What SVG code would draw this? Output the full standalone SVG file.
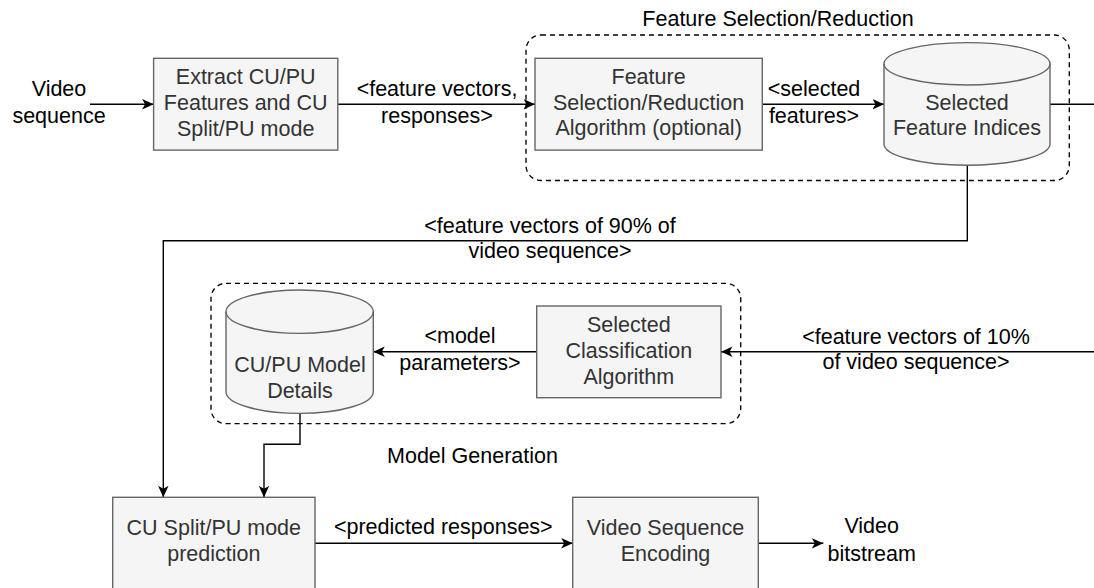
<svg xmlns="http://www.w3.org/2000/svg" width="1094" height="588" viewBox="0 0 1094 588">
  <style>
    text { font-family: "Liberation Sans", Arial, sans-serif; font-size: 21.5px; text-anchor: middle; }
    .node-text { fill: #333333; }
    .label { fill: #000000; }
    .box { fill: #f5f5f5; stroke: #666666; stroke-width: 1.4; }
    .group { fill: none; stroke: #000000; stroke-width: 1.35; stroke-dasharray: 5 4; }
    .edge { fill: none; stroke: #000000; stroke-width: 1.4; }
    .arrow { marker-end: url(#head); }
  </style>
  <defs>
    <marker id="head" markerUnits="userSpaceOnUse" markerWidth="12" markerHeight="11" refX="11.5" refY="5.25" orient="auto">
      <path d="M0,0 L11.5,5.25 L0,10.5 L3,5.25 Z" fill="#000000"/>
    </marker>
  </defs>
  <rect width="1094" height="588" fill="#ffffff"/>

  <!-- dashed containers -->
  <g id="feature-selection-group">
    <rect class="group" x="526" y="35" width="543.3" height="145.5" rx="15" ry="15"/>
    <text class="label" x="778" y="26">Feature Selection/Reduction</text>
  </g>
  <g id="model-generation-group">
    <rect class="group" x="211" y="283.3" width="529.7" height="140.4" rx="15" ry="15"/>
    <text class="label" x="472.5" y="462.7">Model Generation</text>
  </g>

  <!-- connectors -->
  <g id="connectors">
    <path class="edge arrow" d="M90,104.2 H153.6"/>
    <path class="edge arrow" d="M337.8,104.2 H535"/>
    <path class="edge arrow" d="M762.3,104.2 H884"/>
    <path class="edge" d="M1050,104.2 H1094"/>
    <path class="edge arrow" d="M967.3,165 V240.7 H163.3 V497.3"/>
    <path class="edge arrow" d="M1094,351.7 H721"/>
    <path class="edge arrow" d="M536.7,351.7 H373.3"/>
    <path class="edge arrow" d="M300,413.3 V444.3 H264 V497.3"/>
    <path class="edge arrow" d="M315,543.3 H572.7"/>
    <path class="edge arrow" d="M758.3,543.3 H823.3"/>

    <text class="label" x="437" y="96">&lt;feature vectors,</text>
    <text class="label" x="437" y="122.7">responses&gt;</text>
    <text class="label" x="814" y="96">&lt;selected</text>
    <text class="label" x="814" y="122.7">features&gt;</text>
    <text class="label" x="550" y="232.7">&lt;feature vectors of 90% of</text>
    <text class="label" x="550" y="258.4">video sequence&gt;</text>
    <text class="label" x="916" y="344.4">&lt;feature vectors of 10%</text>
    <text class="label" x="916" y="369.4">of video sequence&gt;</text>
    <text class="label" x="460" y="343.3">&lt;model</text>
    <text class="label" x="460" y="370">parameters&gt;</text>
    <text class="label" x="443.3" y="533.7">&lt;predicted responses&gt;</text>
  </g>

  <!-- input / output terminals -->
  <g id="video-input">
    <text class="label" x="59" y="96">Video</text>
    <text class="label" x="59" y="122.7">sequence</text>
  </g>
  <g id="video-output">
    <text class="label" x="871.7" y="533.4">Video</text>
    <text class="label" x="871.7" y="561">bitstream</text>
  </g>

  <!-- nodes -->
  <g id="extract-features">
    <rect class="box" x="153.6" y="58.3" width="184.2" height="91.8"/>
    <text class="node-text" x="245.7" y="83.7">Extract CU/PU</text>
    <text class="node-text" x="245.7" y="110">Features and CU</text>
    <text class="node-text" x="245.7" y="136">Split/PU mode</text>
  </g>
  <g id="feature-selection-algorithm">
    <rect class="box" x="535" y="58.3" width="227.3" height="91.8"/>
    <text class="node-text" x="648.6" y="83.7">Feature</text>
    <text class="node-text" x="648.6" y="109.7">Selection/Reduction</text>
    <text class="node-text" x="648.6" y="135.4">Algorithm (optional)</text>
  </g>
  <g id="selected-feature-indices">
    <path class="box" d="M884,63.8 A83,21.2 0 0 1 1050,63.8 V144 A83,21.2 0 0 1 884,144 Z"/>
    <path class="box" style="fill:none" d="M884,63.8 A83,21.2 0 0 0 1050,63.8"/>
    <text class="node-text" x="967" y="109.7">Selected</text>
    <text class="node-text" x="967" y="135.4">Feature Indices</text>
  </g>
  <g id="classification-algorithm">
    <rect class="box" x="536.7" y="306" width="184.3" height="91.7"/>
    <text class="node-text" x="628.8" y="331.7">Selected</text>
    <text class="node-text" x="628.8" y="357.7">Classification</text>
    <text class="node-text" x="628.8" y="383.7">Algorithm</text>
  </g>
  <g id="model-details">
    <path class="box" d="M226,311.7 A73.65,21.7 0 0 1 373.3,311.7 V391.7 A73.65,21.7 0 0 1 226,391.7 Z"/>
    <path class="box" style="fill:none" d="M226,311.7 A73.65,21.7 0 0 0 373.3,311.7"/>
    <text class="node-text" x="300" y="372">CU/PU Model</text>
    <text class="node-text" x="300" y="397.7">Details</text>
  </g>
  <g id="mode-prediction">
    <rect class="box" x="112.7" y="497.3" width="202.3" height="92"/>
    <text class="node-text" x="213.8" y="535.4">CU Split/PU mode</text>
    <text class="node-text" x="213.8" y="561">prediction</text>
  </g>
  <g id="sequence-encoding">
    <rect class="box" x="572.7" y="497.3" width="185.6" height="92"/>
    <text class="node-text" x="665.5" y="535.4">Video Sequence</text>
    <text class="node-text" x="665.5" y="561">Encoding</text>
  </g>
</svg>
